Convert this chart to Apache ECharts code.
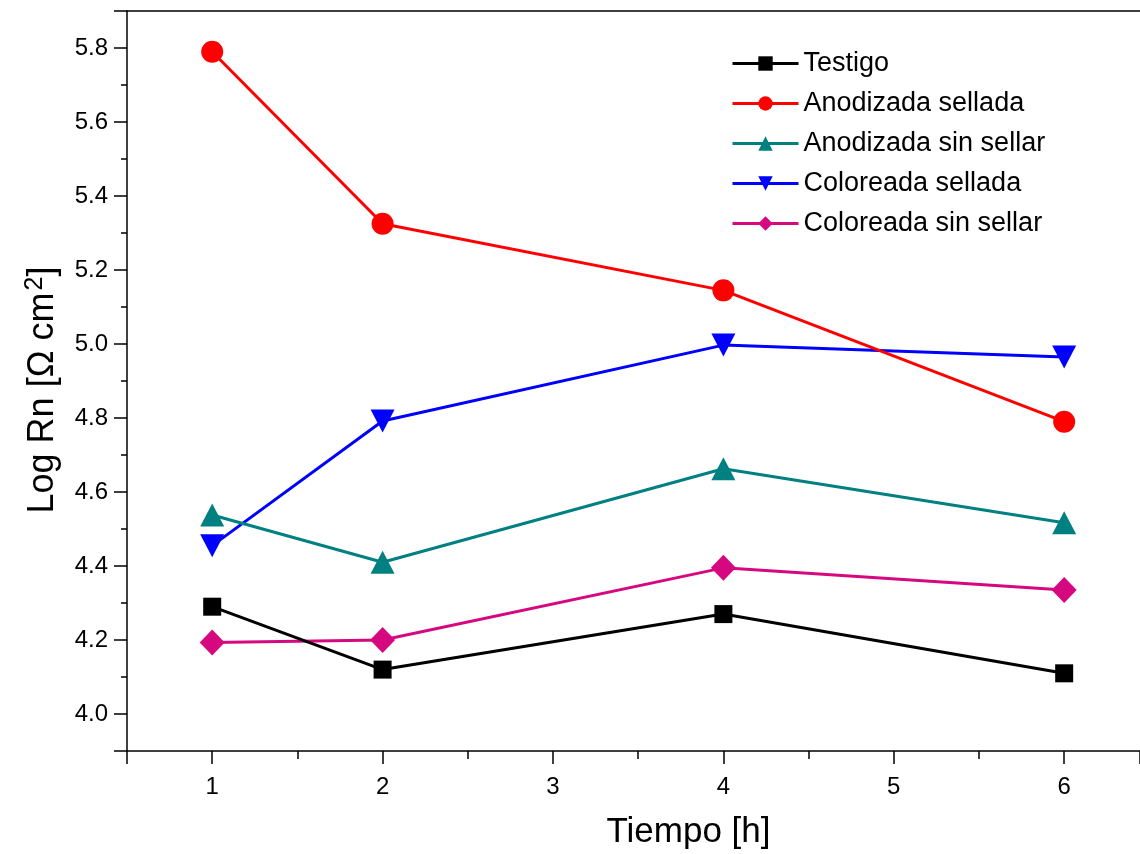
<!DOCTYPE html>
<html>
<head>
<meta charset="utf-8">
<script src="https://cdn.jsdelivr.net/npm/echarts@6/dist/echarts.min.js"></script>
<style>
  html, body { margin: 0; padding: 0; background: #fff; }
  #chart { width: 1140px; height: 854px; }
</style>
</head>
<body>
<div id="chart"></div>
<script>
// Immersion time (h) at which each sample was measured
const hours = [1, 2, 4, 6];

// Log Rn [Ω cm²] per coating
const testigo = [4.29, 4.12, 4.27, 4.11];
const anodizadaSellada = [5.79, 5.325, 5.145, 4.79];
const anodizadaSinSellar = [4.538, 4.41, 4.663, 4.517];
const coloreadaSellada = [4.455, 4.792, 4.997, 4.965];
const coloreadaSinSellar = [4.193, 4.2, 4.395, 4.335];

const seriesNames = ['Testigo', 'Anodizada sellada', 'Anodizada sin sellar', 'Coloreada sellada', 'Coloreada sin sellar'];

// Axis ranges and major tick steps
const xRange = [0.5, 6.445];
const xStep = 1;
const yRange = [3.9, 5.9];
const yStep = 0.2;

const FONT = '"Liberation Sans", Arial, sans-serif';
const AXIS_LINE = { color: '#000', width: 1.5 };

function pairs(values) {
  return hours.map((h, i) => [h, values[i]]);
}

const styles = [
  { color: '#000000', symbol: 'rect', size: 18 },
  { color: '#ff0000', symbol: 'circle', size: 22 },
  { color: '#008080', symbol: 'triangle', size: [24, 23] },
  { color: '#0000ff', symbol: 'path://M0,0 L2,0 L1,2 Z', size: [24, 23] },
  { color: '#d6087f', symbol: 'diamond', size: [25, 26] }
];
const allValues = [testigo, anodizadaSellada, anodizadaSinSellar, coloreadaSellada, coloreadaSinSellar];

const series = allValues.map((vals, i) => ({
  name: seriesNames[i],
  type: 'line',
  xAxisIndex: 0,
  yAxisIndex: 0,
  data: pairs(vals),
  symbol: styles[i].symbol,
  symbolSize: styles[i].size,
  showAllSymbol: true,
  lineStyle: { color: styles[i].color, width: 3 },
  itemStyle: { color: styles[i].color },
  emphasis: { disabled: true },
  animation: false,
  z: 10 - i
}));

const chart = echarts.init(document.getElementById('chart'), null, { renderer: 'canvas' });
chart.setOption({
  backgroundColor: '#ffffff',
  animation: false,
  grid: { left: 127, right: 0, top: 11, bottom: 103, show: false, outerBoundsMode: 'none', containLabel: false },
  legend: {
    orient: 'vertical',
    left: 726,
    top: 45,
    itemWidth: 66,
    itemHeight: 18,
    itemGap: 13,
    textStyle: { fontFamily: FONT, fontSize: 27, color: '#000', lineHeight: 27 },
    lineStyle: { width: 3 },
    data: seriesNames,
    selectedMode: false
  },
  xAxis: [
    {
      type: 'value', position: 'bottom', min: xRange[0], max: xRange[1],
      splitNumber: 6, minInterval: xStep, maxInterval: xStep,
      axisLine: { show: true, lineStyle: AXIS_LINE },
      axisTick: { show: true, inside: false, length: 13, lineStyle: AXIS_LINE },
      minorTick: { show: true, splitNumber: 2, length: 8, lineStyle: AXIS_LINE },
      axisLabel: {
        show: true, margin: 24, fontFamily: FONT, fontSize: 24, color: '#000',
        showMinLabel: false, showMaxLabel: false
      },
      splitLine: { show: false },
      minorSplitLine: { show: false },
      name: 'Tiempo [h]',
      nameLocation: 'middle',
      nameGap: 64,
      nameTextStyle: { fontFamily: FONT, fontSize: 35, color: '#000', padding: [0, 0, 0, 110] }
    },
    {
      // top frame line
      type: 'value', position: 'top', min: xRange[0], max: xRange[1],
      axisLine: { show: true, lineStyle: AXIS_LINE },
      axisTick: { show: false },
      axisLabel: { show: false },
      splitLine: { show: false }
    }
  ],
  yAxis: [
    {
      type: 'value', position: 'left', min: yRange[0], max: yRange[1],
      splitNumber: 10, minInterval: yStep, maxInterval: yStep,
      axisLine: { show: true, lineStyle: AXIS_LINE },
      axisTick: { show: true, inside: false, length: 13, lineStyle: AXIS_LINE },
      minorTick: { show: true, splitNumber: 2, length: 6, lineStyle: AXIS_LINE },
      axisLabel: {
        show: true, margin: 19, fontFamily: FONT, fontSize: 24, color: '#000',
        showMinLabel: false, showMaxLabel: false,
        formatter: v => Number(v).toFixed(1)
      },
      splitLine: { show: false },
      minorSplitLine: { show: false },
      name: 'Log Rn [Ω cm{sup|2}]',
      nameLocation: 'middle',
      nameGap: 64,
      nameTextStyle: {
        fontFamily: FONT, fontSize: 36, color: '#000', padding: [0, 18, 0, 0],
        rich: { sup: { fontFamily: FONT, fontSize: 25, color: '#000', verticalAlign: 'bottom', padding: [0, 0, 15, 2] } }
      }
    }
  ],
  series: series
});
</script>
</body>
</html>
